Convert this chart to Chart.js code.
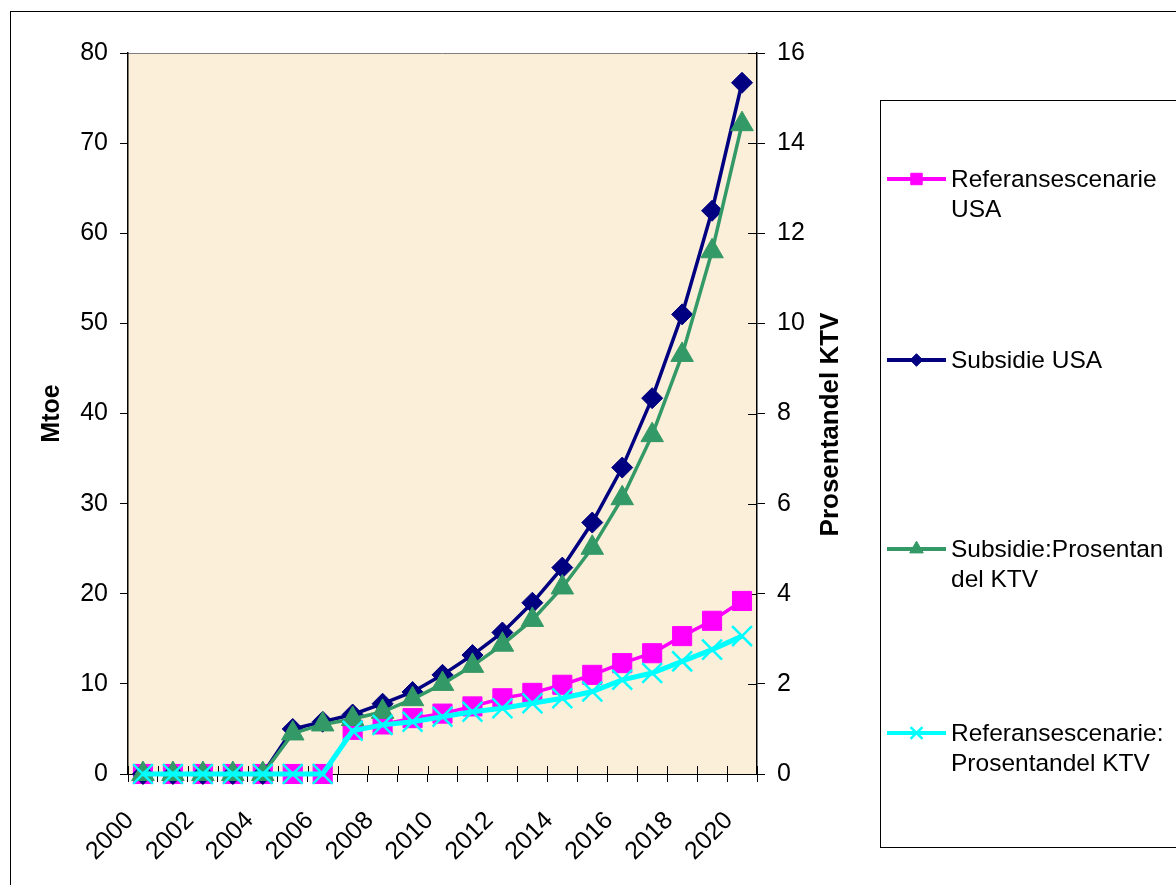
<!DOCTYPE html>
<html>
<head>
<meta charset="utf-8">
<script src="https://cdn.jsdelivr.net/npm/chart.js@4/dist/chart.umd.min.js"></script>
<style>
  html, body { margin: 0; padding: 0; background: #fff; overflow: hidden; }
  #wrap { position: relative; width: 1176px; height: 885px; }
</style>
</head>
<body>
<div id="wrap"><canvas id="c" width="1176" height="885"></canvas></div>
<script>
// Years on the category axis
const years = ['2000','2001','2002','2003','2004','2005','2006','2007','2008','2009','2010',
               '2011','2012','2013','2014','2015','2016','2017','2018','2019','2020'];

// Mtoe (left axis)
const refUSA = [0, 0, 0, 0, 0, 0, 0, 4.9, 5.5, 6.2, 6.7, 7.5, 8.4, 9.0, 9.9, 11.0, 12.3, 13.4, 15.3, 17.0, 19.2];
const subUSA = [0, 0, 0, 0, 0, 5.0, 5.8, 6.6, 7.8, 9.1, 11.0, 13.2, 15.7, 19.0, 22.9, 27.9, 34.0, 41.7, 51.0, 62.5, 76.7];

// Prosentandel KTV (right axis)
const subPct = [0, 0, 0, 0, 0, 0.9, 1.1, 1.22, 1.38, 1.66, 2.0, 2.4, 2.87, 3.42, 4.14, 5.02, 6.12, 7.52, 9.3, 11.6, 14.42];
const refPct = [0, 0, 0, 0, 0, 0, 0, 0.96, 1.09, 1.16, 1.27, 1.38, 1.46, 1.57, 1.68, 1.83, 2.09, 2.24, 2.5, 2.76, 3.06];

// Tick labels
const leftTicks = [0, 10, 20, 30, 40, 50, 60, 70, 80];
const rightTicks = [0, 2, 4, 6, 8, 10, 12, 14, 16];
const xTickLabels = years.map((y, i) => (i % 2 === 0 ? y : ''));

// Series names and how they wrap inside the legend box
const seriesNames = ['Referansescenarie USA', 'Subsidie USA', 'Subsidie:Prosentandel KTV', 'Referansescenarie: Prosentandel KTV'];
const legendLines = [['Referansescenarie', 'USA'], ['Subsidie USA'], ['Subsidie:Prosentan', 'del KTV'], ['Referansescenarie:', 'Prosentandel KTV']];
const axisTitleLeft = 'Mtoe';
const axisTitleRight = 'Prosentandel KTV';

const FONT = "'Liberation Sans', Arial, sans-serif";

// Plot background, outer frame and top edge of the plot area
const framePlugin = {
  id: 'frame',
  beforeDraw(chart) {
    const { ctx, chartArea: a } = chart;
    ctx.save();
    ctx.fillStyle = '#ffffff';
    ctx.fillRect(0, 0, chart.width, chart.height);
    ctx.strokeStyle = '#000000';
    ctx.lineWidth = 1;
    ctx.strokeRect(10.5, 11.5, 1400, 1000);
    ctx.fillStyle = '#FBEFD9';
    ctx.fillRect(a.left, a.top, a.right - a.left, a.bottom - a.top);
    ctx.strokeStyle = '#808080';
    ctx.beginPath();
    ctx.moveTo(a.left, a.top + 0.5);
    ctx.lineTo(a.right, a.top + 0.5);
    ctx.stroke();
    ctx.restore();
  },
  // tick marks that cross into the plot on the x axis and the right axis
  beforeDatasetsDraw(chart) {
    const { ctx } = chart;
    const x = chart.scales.x, y1 = chart.scales.y1;
    const step = x.getPixelForValue(1) - x.getPixelForValue(0);
    ctx.save();
    ctx.strokeStyle = '#000000';
    ctx.lineWidth = 1;
    ctx.beginPath();
    for (let i = 0; i <= years.length; i++) {
      const px = Math.round(x.getPixelForValue(0) - step / 2 + i * step) + 0.5;
      ctx.moveTo(px, x.top);
      ctx.lineTo(px, x.top - 8);
    }
    y1.ticks.forEach(t => {
      const py = Math.round(y1.getPixelForValue(t.value)) + 0.5;
      ctx.moveTo(y1.left, py);
      ctx.lineTo(y1.left - 9, py);
    });
    ctx.stroke();
    ctx.restore();
  },
  afterDraw(chart) {
    const { ctx } = chart;
    const a = chart.chartArea;
    // right axis title, reading bottom to top
    ctx.save();
    ctx.font = 'bold 26px ' + FONT;
    ctx.fillStyle = '#000000';
    ctx.textAlign = 'center';
    ctx.textBaseline = 'alphabetic';
    ctx.translate(838, (a.top + a.bottom) / 2 + 11);
    ctx.rotate(-Math.PI / 2);
    ctx.fillText(axisTitleRight, 0, 0);
    ctx.restore();

    // legend box
    ctx.save();
    ctx.strokeStyle = '#000000';
    ctx.lineWidth = 1;
    ctx.strokeRect(880.5, 100.5, 400, 747);
    const rowY = [179, 360, 549, 733];
    chart.data.datasets.forEach((ds, i) => {
      const yy = rowY[i];
      ctx.strokeStyle = ds.borderColor;
      ctx.lineWidth = 4;
      ctx.beginPath();
      ctx.moveTo(887, yy);
      ctx.lineTo(946, yy);
      ctx.stroke();
      ctx.fillStyle = ds.pointBackgroundColor;
      ctx.strokeStyle = ds.pointBorderColor;
      ctx.lineWidth = ds.pointBorderWidth;
      Chart.helpers.drawPoint(ctx, {
        pointStyle: ds.pointStyle,
        radius: ds.pointRadius * 0.6,
        borderWidth: ds.pointBorderWidth,
        rotation: 0
      }, 916.5, yy);
      ctx.fillStyle = '#000000';
      ctx.font = '24.5px ' + FONT;
      ctx.textAlign = 'left';
      ctx.textBaseline = 'alphabetic';
      legendLines[i].forEach((line, k) => {
        ctx.fillText(line, 951, yy + 8 + k * 30);
      });
    });
    ctx.restore();
  }
};

function lineSeries(label, data, axis, color, width, style, radius, pbw, order) {
  return {
    label, data, yAxisID: axis,
    borderColor: color, backgroundColor: color,
    pointBackgroundColor: color, pointBorderColor: color,
    borderWidth: width, pointStyle: style, pointRadius: radius,
    pointBorderWidth: pbw, pointHoverRadius: radius,
    tension: 0, clip: false, order
  };
}

new Chart(document.getElementById('c'), {
  type: 'line',
  data: {
    labels: years,
    datasets: [
      lineSeries(seriesNames[0], refUSA, 'y', '#FF00FF', 3.5, 'rect', 13.5, 1, 4),
      lineSeries(seriesNames[1], subUSA, 'y', '#000080', 3.5, 'rectRot', 10.5, 1, 3),
      lineSeries(seriesNames[2], subPct, 'y1', '#339966', 3.5, 'triangle', 13, 1, 2),
      lineSeries(seriesNames[3], refPct, 'y1', '#00FFFF', 5, 'crossRot', 14, 2.5, 1)
    ]
  },
  options: {
    responsive: false,
    animation: false,
    devicePixelRatio: 1,
    layout: { padding: { left: 33, top: 53, right: 319, bottom: 0 } },
    plugins: { legend: { display: false }, tooltip: { enabled: false } },
    scales: {
      x: {
        type: 'category',
        offset: true,
        grid: { offset: true, drawOnChartArea: false, drawTicks: true, tickLength: 8, color: '#000000' },
        border: { display: true, color: '#000000', width: 1 },
        ticks: {
          autoSkip: false, minRotation: 45, maxRotation: 45, padding: 24, labelOffset: -13,
          color: '#000000', font: { family: FONT, size: 25 },
          callback: (v, i) => xTickLabels[i]
        },
        afterFit(s) { s.height = 111; }
      },
      y: {
        position: 'left',
        min: 0, max: 80,
        afterBuildTicks(s) { s.ticks = leftTicks.map(v => ({ value: v })); },
        grid: { drawOnChartArea: false, drawTicks: true, tickLength: 8, color: '#000000' },
        border: { display: true, color: '#000000', width: 1.5 },
        ticks: { padding: 12, color: '#000000', font: { family: FONT, size: 25 } },
        title: { display: true, text: axisTitleLeft, color: '#000000', font: { family: FONT, size: 25, weight: 'bold' }, padding: { top: 4, bottom: 4 } },
        afterFit(s) { s.width = 95; }
      },
      y1: {
        position: 'right',
        min: 0, max: 16,
        afterBuildTicks(s) { s.ticks = rightTicks.map(v => ({ value: v })); },
        grid: { drawOnChartArea: false, drawTicks: true, tickLength: 8, color: '#000000' },
        border: { display: true, color: '#000000', width: 1.5 },
        ticks: { padding: 12, color: '#000000', font: { family: FONT, size: 25 } },
        afterFit(s) { s.width = 100; }
      }
    }
  },
  plugins: [framePlugin]
});
</script>
</body>
</html>
